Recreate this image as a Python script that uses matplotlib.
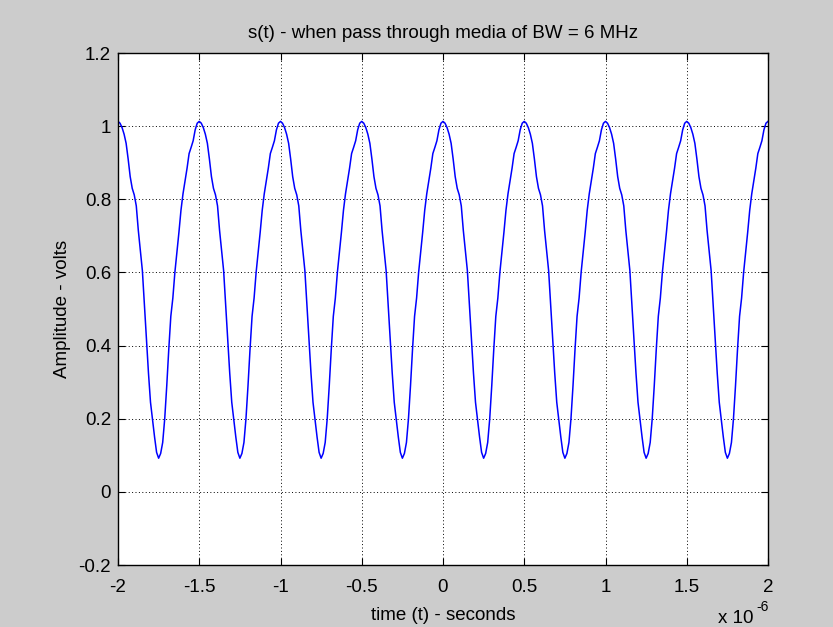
import numpy as np
import matplotlib
matplotlib.use("Agg")
import matplotlib.pyplot as plt

plt.rcParams['font.family'] = ['Liberation Sans', 'DejaVu Sans']

period_us = 0.5
step_us = 0.0125
s_period = [1.013, 1.008, 0.996, 0.978, 0.953, 0.910, 0.862, 0.830, 0.812, 0.782,
            0.715, 0.660, 0.605, 0.510, 0.415, 0.325, 0.245, 0.198, 0.150, 0.108,
            0.092, 0.105, 0.135, 0.200, 0.290, 0.390, 0.480, 0.530, 0.600, 0.655,
            0.710, 0.770, 0.815, 0.850, 0.885, 0.925, 0.942, 0.960, 0.990, 1.008]
n_periods = 8
t_start = -2.0

xticks = [-2, -1.5, -1, -0.5, 0, 0.5, 1, 1.5, 2]
xtick_labels = ['-2', '-1.5', '-1', '-0.5', '0', '0.5', '1', '1.5', '2']
yticks = [-0.2, 0, 0.2, 0.4, 0.6, 0.8, 1, 1.2]
ytick_labels = ['-0.2', '0', '0.2', '0.4', '0.6', '0.8', '1', '1.2']

s = np.concatenate([np.tile(s_period, n_periods), s_period[:1]])
t = t_start + step_us * np.arange(len(s))

fs = 13.5
fig = plt.figure(figsize=(8.33, 6.27), dpi=100, facecolor='#cccccc')
ax = fig.add_axes([118/833, 1-565/627, 650/833, 512/627])
ax.plot(t, s, color='#0000ff', lw=1.1)

ax.set_xlim(-2, 2)
ax.set_ylim(-0.2, 1.2)
ax.set_xticks(xticks)
ax.set_xticklabels(xtick_labels)
ax.set_yticks(yticks)
ax.set_yticklabels(ytick_labels)
ax.tick_params(direction='in', length=5, width=0.8, labelsize=fs, top=True, right=True,
               colors='black')
ax.tick_params(axis='x', pad=10)
ax.tick_params(axis='y', pad=5)
ax.grid(True, color='black', linestyle=(0, (1, 2.5)), lw=0.7)
for sp in ax.spines.values():
    sp.set_linewidth(1.0)

ax.set_title('s(t) - when pass through media of BW = 6 MHz', fontsize=fs, pad=11)
ax.set_xlabel('time (t) - seconds', fontsize=fs, labelpad=8)
ax.set_ylabel('Amplitude - volts', fontsize=fs, labelpad=5)
fig.text(718/833, 1-623/627, 'x 10', fontsize=fs, va='baseline', ha='left')
fig.text(756/833, 1-611/627, '-6', fontsize=10, va='baseline', ha='left')

fig.savefig('out.png', dpi=100, facecolor=fig.get_facecolor())
